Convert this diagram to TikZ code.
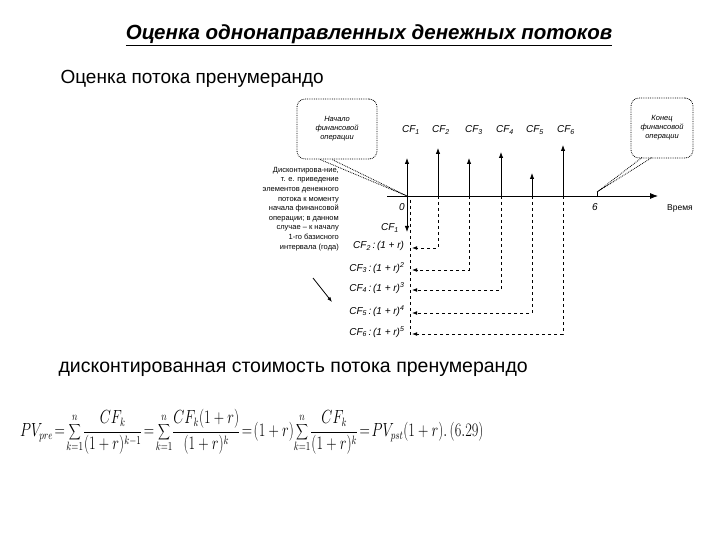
\documentclass[tikz,border=0pt]{standalone}
\usepackage{fontspec}
\usepackage{graphicx}
\setmainfont{Liberation Sans}
\usetikzlibrary{arrows.meta}
\begin{document}
\begin{tikzpicture}[x=1pt,y=-1pt,
  lab/.style={font=\fontsize{10}{11}\selectfont\itshape},
  bub/.style={draw,densely dotted,thick,rounded corners=8pt,minimum width=80,minimum height=60,align=center,font=\fontsize{7.5}{9}\selectfont\itshape},
  up/.style={-{Latex[length=6pt]},thick},
  dasharr/.style={-{Latex[length=5pt]},dashed,thick}]
\useasboundingbox (0,0) rectangle (720,540);
\node[font=\fontsize{20.5}{24}\selectfont\bfseries\itshape] (title) at (369,35) {\underline{Оценка однонаправленных денежных потоков}};
\node[anchor=west,font=\fontsize{19}{22}\selectfont] (t1) at (57,79) {Оценка потока пренумерандо};
\node[anchor=west,font=\fontsize{19.5}{22}\selectfont] (t2) at (55,369) {дисконтированная стоимость потока пренумерандо};
% axis
\coordinate (o) at (407,196);
\coordinate (s) at (387,196);
\coordinate (e) at (658,196);
\draw[-{Latex[length=8pt]},thick] (s) -- (e);
\node[lab,font=\fontsize{8.5}{9}\selectfont] (time) at (680,208) {Время};
\node[lab] (z) at (402,207) {0};
\node[lab] (six) at (595,207) {6};
\coordinate (t6) at (597,192);
\draw[thick] (t6) -- (597,196);
% upward arrows
\foreach \i/\x/\y in {1/407/158,2/438/148,3/469/158,4/501/152,5/532/173,6/563/145}{
  \coordinate (b\i) at (\x,196);
  \coordinate (u\i) at (\x,\y);
  \draw[up] (b\i) -- (u\i);
}
\foreach \i/\x in {1/411,2/441,3/474,4/505,5/535,6/566}
  \node[lab] (cf\i) at (\x,130) {CF\textsubscript{\i}};
% discounted
\coordinate (d1) at (407,232);
\draw[up] (o) -- (d1);
\node[lab] (c1) at (390,228) {CF\textsubscript{1}};
\coordinate (vb) at (410,336);
\draw[dashed,thick] (410,200) -- (vb);
\foreach \i/\x/\y/\e in {2/438/248/,3/469/270/2,4/501/290/3,5/532/313/4,6/563/334/5}{
  \coordinate (r\i) at (\x,\y);
  \coordinate (l\i) at (412,\y);
  \draw[dasharr] (b\i) -- (r\i) -- (l\i);
  \node[lab,anchor=east] (k\i) at (408,\y-2) {CF\textsubscript{\i}\,:\,(1 + r)\textsuperscript{\e}};
}
% left text
\node[align=right,anchor=north east,font=\fontsize{7.5}{9.6}\selectfont,inner sep=0] (txt) at (339,167)
 {Дисконтирова-ние,\\т. е. приведение\\элементов денежного\\потока к моменту\\начала финансовой\\операции; в данном\\случае -- к началу\\1-го базисного\\интервала (года)};
\coordinate (a1) at (313,278); \coordinate (a2) at (332,302);
\draw[-{Latex[length=5pt]},thick] (a1) -- (a2);
% bubbles
\node[bub] (lb) at (337,129) {Начало\\финансовой\\операции};
\node[bub,minimum width=62] (rb) at (662,128) {Конец\\финансовой\\операции};
\draw[densely dotted,thick] (320,159.5) -- (o) -- (332,159.5);
\draw[densely dotted,thick] (642,157.5) -- (t6) -- (652,157.5);
% formula
\node[anchor=west,inner sep=0] (f) at (20,432)
 {\scalebox{0.83}[1.1]{\fontsize{16}{19}\selectfont$\displaystyle PV_{pre}\!=\!\sum_{k=1}^{n}\!\frac{CF_k}{(1+r)^{k-1}}\!=\!\sum_{k=1}^{n}\!\frac{CF_k(1+r)}{(1+r)^k}\!=\!(1+r)\!\sum_{k=1}^{n}\!\frac{CF_k}{(1+r)^k}\!=\!PV_{pst}(1+r).\,(6.29)$}};
\end{tikzpicture}
\end{document}
